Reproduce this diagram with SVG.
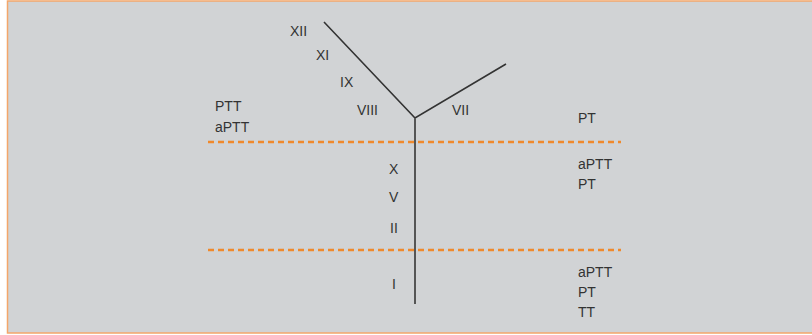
<svg xmlns="http://www.w3.org/2000/svg" width="812" height="335" viewBox="0 0 812 335">
<style>
text{font-family:"Liberation Sans",Arial,sans-serif;font-size:14px;fill:#333}
.d{stroke:#f0892c;stroke-width:2.5;stroke-dasharray:6 4;fill:none}
.b{stroke:#333;stroke-width:1.6;fill:none}
</style>
<rect x="7.5" y="1" width="812" height="332" fill="#d1d3d5" stroke="#f4a66a" stroke-width="1.5"/>
<g id="connectors">
<line class="d" x1="208" y1="142" x2="621" y2="142"/>
<line class="d" x1="208" y1="250" x2="621" y2="250"/>
<polyline class="b" points="324,22 415,118 506,64"/>
<line x1="415" y1="118" x2="415" y2="304" stroke="#555" stroke-width="2"/>
</g>
<g id="labels">
<text x="290" y="36">XII</text>
<text x="316" y="60">XI</text>
<text x="340" y="87">IX</text>
<text x="357" y="115">VIII</text>
<text x="452" y="115">VII</text>
<text x="215" y="111">PTT</text>
<text x="215" y="132">aPTT</text>
<text x="578" y="123">PT</text>
<text x="389" y="174">X</text>
<text x="389" y="202">V</text>
<text x="390" y="233">II</text>
<text x="392" y="289">I</text>
<text x="578" y="169">aPTT</text>
<text x="578" y="189">PT</text>
<text x="578" y="277">aPTT</text>
<text x="578" y="297">PT</text>
<text x="578" y="317">TT</text>
</g>
</svg>
